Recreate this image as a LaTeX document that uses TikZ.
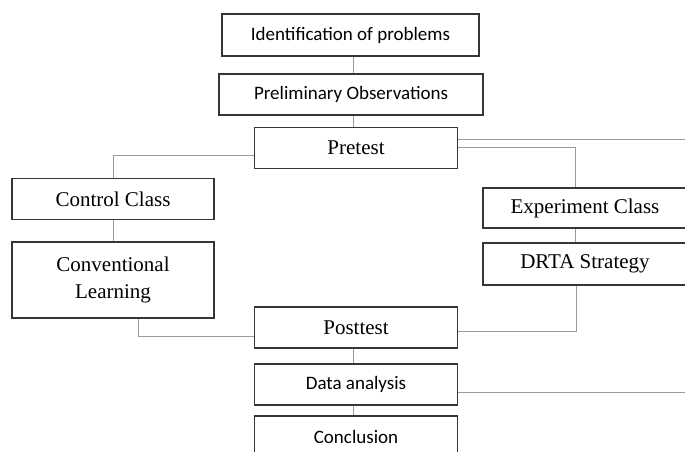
\documentclass[tikz,border=0pt]{standalone}
\usepackage{fontspec}
\setmainfont{Liberation Serif}
\newfontfamily\calibrifont{Carlito}
\usetikzlibrary{positioning, calc}

\definecolor{boxline}{HTML}{2E3B2E}
\definecolor{linkline}{HTML}{9A9A9A}

\begin{document}
\begin{tikzpicture}[x=1pt, y=-1pt,
		box/.style={draw=boxline, line width=1.6pt, fill=white, inner sep=0pt, align=center, font=\fontsize{21}{27}\selectfont},
		sbox/.style={box, font=\calibrifont\fontsize{19}{23}\selectfont},
		link/.style={draw=linkline, line width=1pt}]
		\useasboundingbox (0, 0) rectangle (685, 451);
		% upper part
		\node[sbox, minimum width=257pt, minimum height=42pt] (ident) at (350.5, 35) {Identification of problems};
		\node[sbox, minimum width=264pt, minimum height=41pt] (prelim) at (351, 94.5) {Preliminary Observations};
		\node[box, minimum width=203pt, minimum height=41pt] (pre) at (356, 148) {Pretest};
		% the two classes
		\node[box, minimum width=202pt, minimum height=41pt] (ctrl) at (113, 199) {Control Class};
		\node[box, minimum width=202pt, minimum height=76pt] (conv) at (113, 280) {Conventional\\Learning};
		\node[box, minimum width=204pt, minimum height=40pt] (exp) at (585, 208) {Experiment Class};
		\node[box, minimum width=204pt, minimum height=42pt] (drta) at (585, 264) {DRTA Strategy};
		% lower part
		\node[box, minimum width=203pt, minimum height=41pt] (post) at (356, 327.5) {Posttest};
		\node[sbox, minimum width=203pt, minimum height=41pt] (data) at (356, 384.5) {Data analysis};
		\node[sbox, minimum width=203pt, minimum height=42pt] (concl) at (356, 437) {Conclusion};
		\coordinate (spine) at (353, 0);
		\coordinate (edgeA) at (688, 139);
		\coordinate (edgeB) at (688, 392);
		% connectors
		\draw[link] (ident.south -| spine) -- (prelim.north -| spine);
		\draw[link] (prelim.south -| spine) -- (pre.north -| spine);
		\draw[link] ([yshift=-7pt]pre.west) -| (ctrl.north);
		\draw[link] (ctrl.south) -- (conv.north);
		\draw[link] ([xshift=25pt]conv.south) |- ([yshift=-9pt]post.west);
		\draw[link] ([yshift=9pt]pre.east) -- (edgeA);
		\draw[link] ([yshift=1pt]pre.east) -| ([xshift=-10pt]exp.north);
		\draw[link] ([xshift=-10pt]exp.south) -- ([xshift=-10pt]drta.north);
		\draw[link] ([xshift=-9pt]drta.south) |- ([yshift=-4pt]post.east);
		\draw[link] (post.south -| spine) -- (data.north -| spine);
		\draw[link] ([yshift=-7.5pt]data.east) -- (edgeB);
		\draw[link] (data.south -| spine) -- (concl.north -| spine);
	\end{tikzpicture}
\end{document}
